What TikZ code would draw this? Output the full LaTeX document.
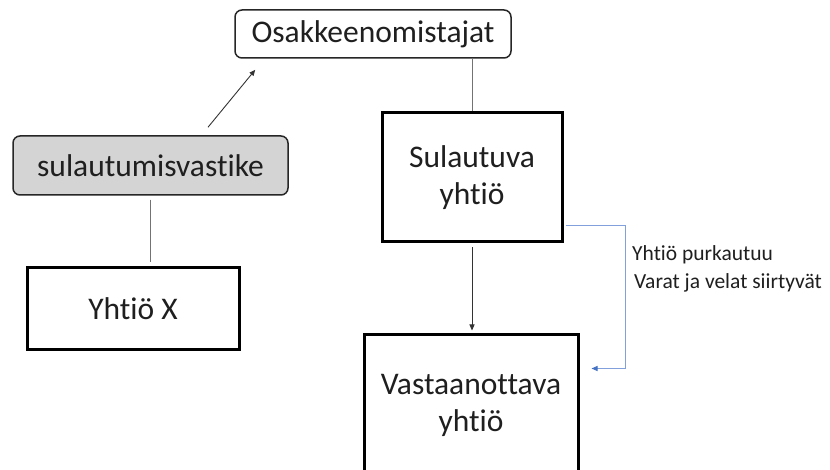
\documentclass[tikz,border=0pt]{standalone}
\usepackage{fontspec}
\setmainfont{Carlito}[RawFeature={-liga}]
\usetikzlibrary{arrows.meta,calc}
\definecolor{blueline}{RGB}{130,160,220}
\definecolor{bluetip}{RGB}{68,114,196}
\begin{document}
\begin{tikzpicture}[x=1pt,y=1pt,
  bigtext/.style={font=\fontsize{31.5}{37}\selectfont, align=center, text=black!88},
  roundbox/.style={draw=black!85, line width=1.5pt, rounded corners=7pt, inner sep=0pt, bigtext},
  sqbox/.style={draw=black, line width=3pt, inner sep=0pt, bigtext},
  conn/.style={draw=black!55, line width=0.9pt},
  arr/.style={draw=black!80, line width=0.9pt, -{Triangle[length=6pt,width=5pt]}},
  bluearr/.style={draw=blueline, line width=1pt, -{Triangle[length=6pt,width=5pt,color=bluetip]}},
  lbl/.style={font=\fontsize{21.5}{26}\selectfont, text=black!88, anchor=west, inner sep=0pt}]
\useasboundingbox (0,0) rectangle (830,-470);
\fill[white] (0,0) rectangle (830,-470);
\node[roundbox, minimum width=276, minimum height=48] (osak) at (373,-34) {Osakkeenomistajat};
\node[roundbox, fill=black!17, minimum width=275, minimum height=59] (vast) at (150.5,-165.5) {sulautumisvastike};
\node[sqbox, minimum width=212, minimum height=81] (x) at (133,-308.5) {Yhtiö X};
\node[sqbox, minimum width=180, minimum height=129] (sul) at (472,-177.5) {Sulautuva\\yhtiö};
\node[sqbox, minimum width=214, minimum height=140] (vas) at (471,-405) {Vastaanottava\\yhtiö};
\node[lbl] (l1) at (632,-255) {Yhtiö purkautuu};
\node[lbl] (l2) at (634,-283) {Varat ja velat siirtyvät};
\draw[conn] (osak.south -| sul.north) -- (sul.north);
\draw[conn, shorten <=4pt, shorten >=4pt] (vast.south) -- (x.north -| vast.south);
\coordinate (a1) at ($(vast.north)+(57.5,8)$);
\coordinate (a2) at ($(osak.south west)+(21,-11)$);
\draw[arr] (a1) -- (a2);
\draw[arr, shorten <=4pt, shorten >=3pt] (sul.south) -- (sul.south |- vas.north);
\draw[bluearr] ($(sul.south east)+(2,18)$) -| ($(vas.north east)+(46,-35)$) -- ($(vas.north east)+(12,-35)$);
\end{tikzpicture}
\end{document}
